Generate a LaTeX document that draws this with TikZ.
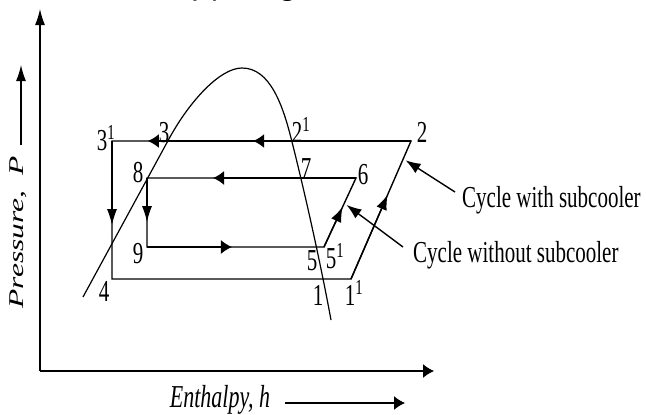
\documentclass[tikz,border=0pt]{standalone}
\usepackage{fontspec}
\setmainfont{Liberation Serif}
\newfontfamily\hdrfont{Carlito}
\usetikzlibrary{arrows.meta,calc}
\newcommand{\vstr}[1]{\scalebox{1}[1.45]{#1}}
\begin{document}
\begin{tikzpicture}[x=1pt,y=-1pt,
  cyc/.style={line width=1.4pt},
  axis/.style={line width=1.3pt},
  htip/.style={-{Latex[length=11pt,width=14pt]}},
  vtip/.style={-{Latex[length=16pt,width=10pt]}},
  dtip/.style={-{Latex[length=15pt,width=11pt]}},
  lbl/.style={font=\fontsize{21}{24}\selectfont, inner sep=0pt},
  ann/.style={font=\fontsize{21}{24}\selectfont, inner sep=0pt, anchor=west},
]
\useasboundingbox (0,0) rectangle (646,415);
\clip (0,0) rectangle (646,415);

% clipped heading fragment
\node[anchor=base west, inner sep=0pt, font=\hdrfont\fontsize{35}{40}\selectfont] (title) at (101,-5) {Enthalpy Diagram};

% axes
\coordinate (ytop) at (40,9);
\coordinate (O) at (40,371);
\coordinate (xend) at (434,371);
\draw[axis, vtip] (O) -- (ytop);
\draw[axis, htip] (O) -- (xend);

% axis labels
\node[rotate=90, font=\itshape\fontsize{21}{24}\selectfont, inner sep=0pt] (plab) at (18,232) {\scalebox{1.5}[1]{Pressure,\ \ P}};
\coordinate (pa1) at (21,145);
\coordinate (pa2) at (21,65);
\draw[axis, vtip] (pa1) -- (pa2);
\node[font=\itshape\fontsize{22}{26}\selectfont, inner sep=0pt] (hlab) at (220,400) {\vstr{Enthalpy, h}};
\coordinate (ha1) at (285,403);
\coordinate (ha2) at (405,403);
\draw[axis, htip] (ha1) -- (ha2);

% saturation dome
\draw[line width=1.2pt] (83,297) -- (170,137) .. controls (190,101) and (220,68) .. (242,68)
  .. controls (270,68) and (283,105) .. (292,142) .. controls (303,185) and (320,260) .. (331,320);

% cycle corners
\coordinate (c2) at (411,141);
\coordinate (c31) at (112,141);
\coordinate (c4) at (112,279);
\coordinate (c11) at (351,279);
\coordinate (c6) at (356,178);
\coordinate (c8) at (147,178);
\coordinate (c9) at (147,247);
\coordinate (c5) at (324,247);

\draw[cyc] (c2) -- (c31) -- (c4) -- (c11) -- cycle;
\draw[cyc] (c6) -- (c8) -- (c9) -- (c5) -- cycle;

% direction arrows
\draw[cyc, htip] (c2) -- ($(c2)!0.528!(c31)$);
\draw[cyc, htip] (c2) -- ($(c2)!0.88!(c31)$);
\draw[cyc, vtip] (c31) -- ($(c31)!0.61!(c4)$);
\draw[cyc, htip] (c6) -- ($(c6)!0.684!(c8)$);
\draw[cyc, vtip] (c8) -- ($(c8)!0.64!(c9)$);
\draw[cyc, htip] (c9) -- ($(c9)!0.48!(c5)$);
\draw[cyc, dtip] (c5) -- ($(c5)!0.58!(c6)$);
\draw[cyc, dtip] (c11) -- ($(c11)!0.61!(c2)$);

% point labels
\node[lbl] (l31) at (106,138) {\vstr{3\textsuperscript{1}}};
\node[lbl] (l3) at (164,133) {\vstr{3}};
\node[lbl] (l21) at (301,130) {\vstr{2\textsuperscript{1}}};
\node[lbl] (l2) at (422,132) {\vstr{2}};
\node[lbl] (l8) at (138,173) {\vstr{8}};
\node[lbl] (l7) at (306,169) {\vstr{7}};
\node[lbl] (l6) at (363,175) {\vstr{6}};
\node[lbl] (l9) at (138,254) {\vstr{9}};
\node[lbl] (l5) at (312,261) {\vstr{5}};
\node[lbl] (l51) at (335,256) {\vstr{5\textsuperscript{1}}};
\node[lbl] (l4) at (104,291) {\vstr{4}};
\node[lbl] (l1) at (318,295) {\vstr{1}};
\node[lbl] (l11) at (354,293) {\vstr{1\textsuperscript{1}}};

% annotations
\node[ann] (withsc) at (462,200) {\vstr{Cycle with subcooler}};
\node[ann] (withoutsc) at (413,255) {\vstr{Cycle without subcooler}};
\coordinate (aA) at (455,192);
\coordinate (aB) at (403,247);
\draw[cyc, dtip] (aA) -- ($(c11)!0.86!(c2)+(3,0)$);
\draw[cyc, dtip] (aB) -- ($(c5)!0.61!(c6)+(3,0)$);
\end{tikzpicture}
\end{document}
